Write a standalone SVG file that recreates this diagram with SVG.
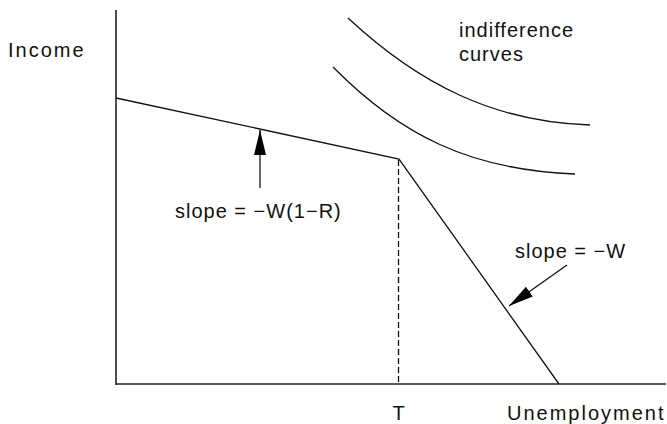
<svg xmlns="http://www.w3.org/2000/svg" width="667" height="424" viewBox="0 0 667 424">
<style>
.ln{fill:none;stroke:#111;stroke-width:1.3}
.ax{fill:none;stroke:#222;stroke-width:1.6}
.t{font-family:"Liberation Sans",Arial,sans-serif;font-size:20px;fill:#111;letter-spacing:1px}
.w{letter-spacing:2px}
</style>
<defs>
<marker id="ah" markerUnits="userSpaceOnUse" markerWidth="26" markerHeight="13" refX="25" refY="6" orient="auto">
<path d="M0,0 L25,6 L0,12 z" fill="#000"/>
</marker>
</defs>
<g id="axes">
<line class="ax" x1="116" y1="10" x2="116" y2="385"/>
<line class="ax" x1="116" y1="384" x2="666" y2="384"/>
</g>
<g id="budget">
<polyline class="ln" points="116,98 399,159 559,384"/>
<line class="ln" x1="398.5" y1="160" x2="398.5" y2="384" stroke-dasharray="6,3"/>
</g>
<g id="curves">
<path class="ln" d="M348,18 C420,85 495,122 590,125"/>
<path class="ln" d="M333,67 C400,135 470,170 575,174"/>
</g>
<g id="connectors">
<line class="ln" x1="260" y1="188" x2="260" y2="130" marker-end="url(#ah)"/>
<line class="ln" x1="567" y1="265" x2="509" y2="306" marker-end="url(#ah)"/>
</g>
<g id="labels">
<text class="t w" x="8" y="57">Income</text>
<text class="t" x="459" y="37">indifference</text>
<text class="t" x="459" y="61">curves</text>
<text class="t" x="175" y="218">slope = −W(1−R)</text>
<text class="t" x="515" y="258">slope = −W</text>
<text class="t" x="399" y="420" text-anchor="middle">T</text>
<text class="t w" x="507" y="420">Unemployment</text>
</g>
</svg>
